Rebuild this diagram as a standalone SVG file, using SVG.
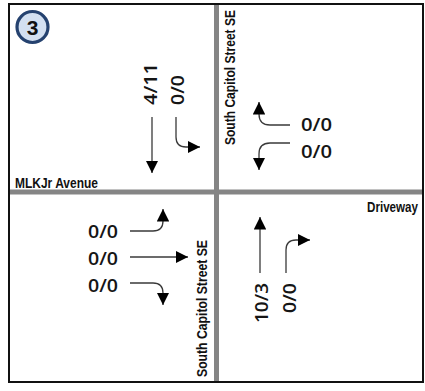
<svg xmlns="http://www.w3.org/2000/svg" width="425" height="391" viewBox="0 0 425 391">
  <style>
    .road { stroke: #858585; stroke-width: 5; fill: none; }
    .move { stroke: #3a3a3a; stroke-width: 1.3; fill: none; marker-end: url(#head); }
    .vol { font-family: "Open Sans", "Liberation Sans", sans-serif; font-size: 18.5px; font-weight: 600; fill: #151515; }
    .street { font-family: "Liberation Sans", Arial, sans-serif; font-size: 14px; font-weight: bold; fill: #111; }
  </style>
  <defs>
    <marker id="head" viewBox="0 0 12 12" refX="12" refY="6" markerWidth="12.5" markerHeight="12.5" markerUnits="userSpaceOnUse" orient="auto">
      <path d="M0,0 L12,6 L0,12 z" fill="#000"/>
    </marker>
  </defs>

  <rect x="0" y="0" width="425" height="391" fill="#fff"/>

  <!-- roads -->
  <g id="roads">
    <line class="road" x1="9" y1="192" x2="423" y2="192"/>
    <line class="road" x1="216.5" y1="4" x2="216.5" y2="382"/>
  </g>

  <!-- frame -->
  <rect x="9" y="4" width="414" height="378" fill="none" stroke="#111" stroke-width="2"/>

  <!-- intersection number -->
  <g id="badge">
    <circle cx="32.5" cy="27" r="15.5" fill="#d3e0f1" stroke="#25426f" stroke-width="3.2"/>
    <text x="32.5" y="34.5" text-anchor="middle" font-family="Liberation Sans, Arial, sans-serif" font-size="21" font-weight="bold" fill="#111">3</text>
  </g>

  <!-- street names -->
  <g id="labels">
    <text class="street" x="15" y="188" textLength="83" lengthAdjust="spacingAndGlyphs">MLKJr Avenue</text>
    <text class="street" x="418" y="212" text-anchor="end" textLength="51" lengthAdjust="spacingAndGlyphs">Driveway</text>
    <text class="street" transform="translate(235,77.5) rotate(-90)" text-anchor="middle" textLength="135" lengthAdjust="spacingAndGlyphs">South Capitol Street SE</text>
    <text class="street" transform="translate(207,308.5) rotate(-90)" text-anchor="middle" textLength="137" lengthAdjust="spacingAndGlyphs">South Capitol Street SE</text>
  </g>

  <!-- movement arrows -->
  <g id="connectors">
    <!-- southbound approach -->
    <path class="move" d="M152,117 V173"/>
    <path class="move" d="M176,117 V137 Q176,147 186,147 H200"/>
    <!-- westbound approach -->
    <path class="move" d="M290,125 H270 Q259,125 259,114 V102"/>
    <path class="move" d="M290,143 H270 Q259,143 259,154 V170"/>
    <!-- eastbound approach -->
    <path class="move" d="M130,231 H153 Q163,231 163,221 V209"/>
    <path class="move" d="M130,257 H188"/>
    <path class="move" d="M130,283 H153 Q163,283 163,293 V305"/>
    <!-- northbound approach -->
    <path class="move" d="M260,273 V217"/>
    <path class="move" d="M286,273 V250 Q286,240 296,240 H310"/>
  </g>

  <!-- turning volumes (AM/PM) -->
  <g id="volumes">
    <text class="vol" transform="translate(157,105) rotate(-90)" textLength="42" lengthAdjust="spacingAndGlyphs">4/11</text>
    <text class="vol" transform="translate(183.5,105) rotate(-90)" textLength="30" lengthAdjust="spacingAndGlyphs">0/0</text>
    <text class="vol" x="301" y="131" textLength="31" lengthAdjust="spacingAndGlyphs">0/0</text>
    <text class="vol" x="301" y="158" textLength="31" lengthAdjust="spacingAndGlyphs">0/0</text>
    <text class="vol" x="88" y="238" textLength="30" lengthAdjust="spacingAndGlyphs">0/0</text>
    <text class="vol" x="88" y="265" textLength="30" lengthAdjust="spacingAndGlyphs">0/0</text>
    <text class="vol" x="88" y="292" textLength="30" lengthAdjust="spacingAndGlyphs">0/0</text>
    <text class="vol" transform="translate(267.5,283) rotate(-90)" text-anchor="end" textLength="40" lengthAdjust="spacingAndGlyphs">10/3</text>
    <text class="vol" transform="translate(295.5,283) rotate(-90)" text-anchor="end" textLength="30" lengthAdjust="spacingAndGlyphs">0/0</text>
  </g>
</svg>
